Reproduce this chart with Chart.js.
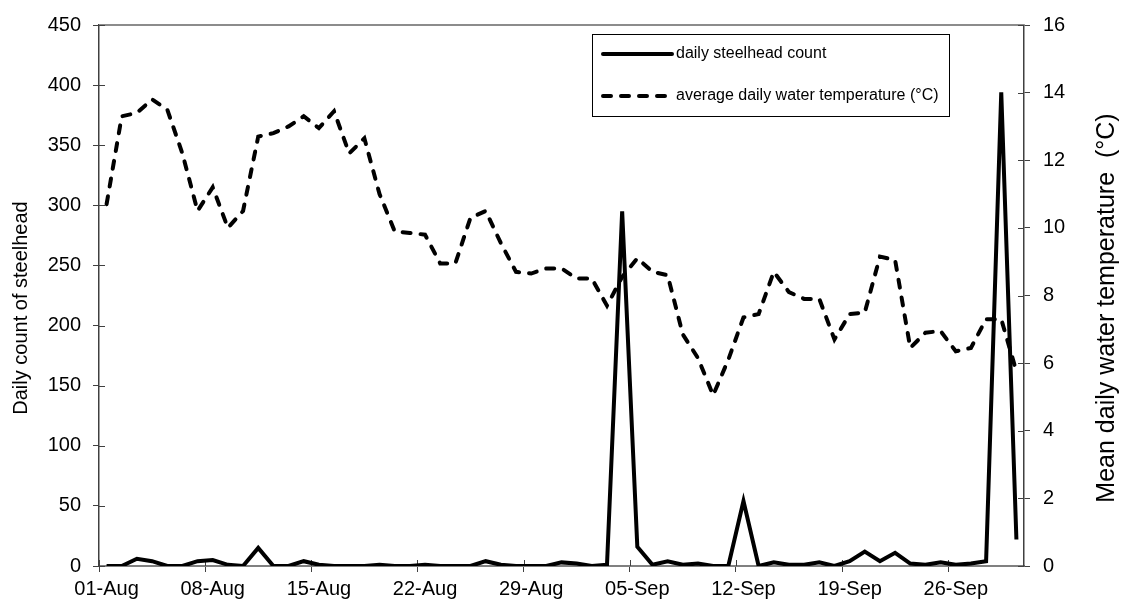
<!DOCTYPE html>
<html>
<head>
<meta charset="utf-8">
<script src="https://cdn.jsdelivr.net/npm/chart.js@4.4.0/dist/chart.umd.min.js"></script>
<style>
  body { margin: 0; background: #fff; }
  #wrap { width: 1124px; height: 609px; }
</style>
</head>
<body>
<div id="wrap"><canvas id="fishChart" width="1124" height="609"></canvas></div>
<script>
// one entry per day, 01-Aug to 30-Sep
var dates = [
  "01-Aug","02-Aug","03-Aug","04-Aug","05-Aug","06-Aug","07-Aug","08-Aug","09-Aug","10-Aug",
  "11-Aug","12-Aug","13-Aug","14-Aug","15-Aug","16-Aug","17-Aug","18-Aug","19-Aug","20-Aug",
  "21-Aug","22-Aug","23-Aug","24-Aug","25-Aug","26-Aug","27-Aug","28-Aug","29-Aug","30-Aug",
  "31-Aug","01-Sep","02-Sep","03-Sep","04-Sep","05-Sep","06-Sep","07-Sep","08-Sep","09-Sep",
  "10-Sep","11-Sep","12-Sep","13-Sep","14-Sep","15-Sep","16-Sep","17-Sep","18-Sep","19-Sep",
  "20-Sep","21-Sep","22-Sep","23-Sep","24-Sep","25-Sep","26-Sep","27-Sep","28-Sep","29-Sep",
  "30-Sep"
];
var tickLabels = ["01-Aug", "08-Aug", "15-Aug", "22-Aug", "29-Aug", "05-Sep", "12-Sep", "19-Sep", "26-Sep"];

// daily steelhead count (left axis)
var steelheadCount = [
  0, 0, 6, 4, 0, 0, 4, 5, 1, 0,
  15, 0, 0, 4, 1, 0, 0, 0, 1, 0,
  0, 1, 0, 0, 0, 4, 1, 0, 0, 0,
  3, 2, 0, 1, 295, 16, 1, 4, 1, 2,
  0, 0, 54, 0, 3, 1, 1, 3, 0, 4,
  12, 4, 11, 2, 1, 3, 1, 2, 4, 394,
  22
];

// average daily water temperature, deg C (right axis)
var waterTemp = [
  10.7, 13.3, 13.4, 13.8, 13.5, 12.2, 10.5, 11.2, 10.0, 10.5,
  12.7, 12.8, 13.0, 13.3, 12.95, 13.45, 12.2, 12.65, 11.0, 9.9,
  9.85, 9.8, 8.95, 8.95, 10.3, 10.5, 9.55, 8.7, 8.65, 8.8,
  8.8, 8.5, 8.5, 7.7, 8.55, 9.1, 8.7, 8.6, 6.85, 6.15,
  5.05, 6.1, 7.35, 7.45, 8.7, 8.1, 7.9, 7.9, 6.7, 7.45,
  7.5, 9.15, 9.05, 6.45, 6.9, 6.95, 6.35, 6.45, 7.3, 7.3,
  5.75
];

var FONT = '"Liberation Sans", Arial, sans-serif';
Chart.defaults.font.family = FONT;
Chart.defaults.color = "#000";

// each day sits in the middle of its own slot on the date axis
function toPoints(values) {
  return values.map(function(v, i) { return { x: i + 0.5, y: v }; });
}

// extra bits Excel draws: top border, ticks crossing the axes, legend box, axis titles
var extras = {
  id: "extras",
  beforeDatasetsDraw: function(chart) {
    var ctx = chart.ctx, a = chart.chartArea;
    ctx.save();
    ctx.strokeStyle = "#8c8c8c";
    ctx.lineWidth = 2;
    ctx.beginPath();
    ctx.moveTo(a.left, a.top);
    ctx.lineTo(a.right, a.top);
    ctx.stroke();

    ctx.strokeStyle = "#404040";
    ctx.lineWidth = 1;
    ctx.beginPath();
    chart.scales.x.ticks.forEach(function(t) {
      var px = Math.round(chart.scales.x.getPixelForValue(t.value)) + 0.5;
      ctx.moveTo(px, a.bottom);
      ctx.lineTo(px, a.bottom - 6);
    });
    chart.scales.y.ticks.forEach(function(t) {
      var py = Math.round(chart.scales.y.getPixelForValue(t.value)) + 0.5;
      ctx.moveTo(a.left, py);
      ctx.lineTo(a.left + 6, py);
    });
    chart.scales.y1.ticks.forEach(function(t) {
      var py = Math.round(chart.scales.y1.getPixelForValue(t.value)) + 0.5;
      ctx.moveTo(a.right, py);
      ctx.lineTo(a.right - 6, py);
    });
    ctx.stroke();
    ctx.restore();
  },
  afterDraw: function(chart) {
    var ctx = chart.ctx;
    ctx.save();

    // legend
    ctx.fillStyle = "#fff";
    ctx.fillRect(592, 34, 358, 83);
    ctx.strokeStyle = "#000";
    ctx.lineWidth = 1;
    ctx.strokeRect(592.5, 34.5, 357, 82);

    ctx.lineWidth = 4;
    ctx.lineCap = "round";
    ctx.beginPath();
    ctx.moveTo(603, 54);
    ctx.lineTo(672, 54);
    ctx.stroke();
    ctx.setLineDash([8, 10]);
    ctx.beginPath();
    ctx.moveTo(603, 96);
    ctx.lineTo(672, 96);
    ctx.stroke();
    ctx.setLineDash([]);

    ctx.fillStyle = "#000";
    ctx.font = "16px " + FONT;
    ctx.textAlign = "left";
    ctx.textBaseline = "middle";
    ctx.fillText("daily steelhead count", 676, 54);
    ctx.fillText("average daily water temperature (°C)", 676, 96);

    // axis titles
    ctx.textAlign = "center";
    ctx.font = "20px " + FONT;
    ctx.save();
    ctx.translate(21, 308);
    ctx.rotate(-Math.PI / 2);
    ctx.fillText("Daily count of steelhead", 0, 0);
    ctx.restore();

    ctx.font = "25px " + FONT;
    ctx.save();
    ctx.translate(1107, 308);
    ctx.rotate(-Math.PI / 2);
    ctx.fillText("Mean daily water temperature  (°C)", 0, 0);
    ctx.restore();

    ctx.restore();
  }
};

var ctx = document.getElementById("fishChart").getContext("2d");
var fishChart = new Chart(ctx, {
  type: "line",
  data: {
    datasets: [{
      label: "daily steelhead count",
      data: toPoints(steelheadCount),
      yAxisID: "y",
      borderColor: "#000",
      borderWidth: 4,
      pointRadius: 0,
      tension: 0,
      fill: false
    }, {
      label: "average daily water temperature (°C)",
      data: toPoints(waterTemp),
      yAxisID: "y1",
      borderColor: "#000",
      borderWidth: 4,
      borderDash: [8, 10],
      borderCapStyle: "round",
      pointRadius: 0,
      tension: 0,
      fill: false
    }]
  },
  options: {
    responsive: false,
    animation: false,
    devicePixelRatio: 1,
    layout: { padding: { top: 17, left: 0, right: 0, bottom: 0 } },
    plugins: {
      legend: { display: false },
      tooltip: { enabled: false }
    },
    scales: {
      x: {
        type: "linear",
        min: 0,
        max: dates.length,
        afterBuildTicks: function(scale) {
          scale.ticks = tickLabels.map(function(l) { return { value: dates.indexOf(l) }; });
        },
        afterFit: function(scale) { scale.height = 43; },
        ticks: {
          callback: function(v) { return dates[v]; },
          autoSkip: false,
          maxRotation: 0,
          labelOffset: 7.6,
          padding: 5,
          font: { size: 20 }
        },
        grid: { drawOnChartArea: false, tickLength: 6, color: "#404040" },
        border: { color: "#808080", width: 2 }
      },
      y: {
        position: "left",
        min: 0,
        max: 450,
        afterFit: function(scale) { scale.width = 99; },
        ticks: { stepSize: 50, padding: 12, font: { size: 20 } },
        grid: { drawOnChartArea: false, tickLength: 6, color: "#404040" },
        border: { color: "#404040", width: 1.5 }
      },
      y1: {
        position: "right",
        min: 0,
        max: 16,
        afterFit: function(scale) { scale.width = 100; },
        ticks: { stepSize: 2, padding: 13, font: { size: 20 } },
        grid: { drawOnChartArea: false, tickLength: 6, color: "#404040" },
        border: { color: "#404040", width: 1.5 }
      }
    }
  },
  plugins: [extras]
});
</script>
</body>
</html>
